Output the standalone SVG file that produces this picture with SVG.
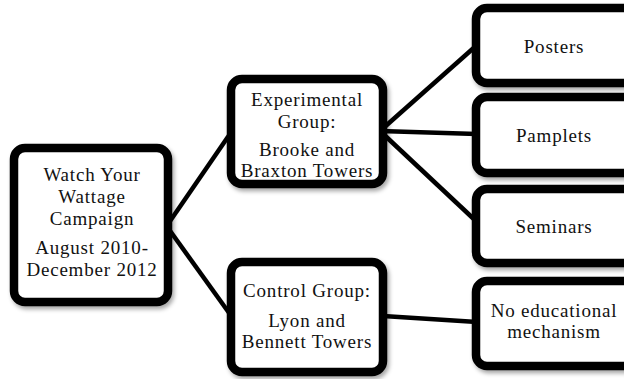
<svg xmlns="http://www.w3.org/2000/svg" width="624" height="379" viewBox="0 0 624 379">
<defs>
<filter id="sh" x="-10%" y="-10%" width="130%" height="130%">
<feDropShadow dx="2" dy="3" stdDeviation="2" flood-color="#000" flood-opacity="0.35"/>
</filter>
<style>
.box{fill:#fff;stroke:#000;stroke-width:8.5;filter:url(#sh)}
.ln{stroke:#000;stroke-width:4.5;fill:none}
.t{font-family:'Liberation Serif','DejaVu Serif',serif;font-size:19px;letter-spacing:0.8px;fill:#111;text-anchor:middle}
</style>
</defs>
<rect width="624" height="379" fill="#fff"/>
<g id="connectors">
<line class="ln" x1="168" y1="224" x2="232" y2="131"/>
<line class="ln" x1="168" y1="228" x2="232" y2="317"/>
<line class="ln" x1="380" y1="131" x2="477" y2="45"/>
<line class="ln" x1="380" y1="131" x2="477" y2="134"/>
<line class="ln" x1="380" y1="131" x2="477" y2="222"/>
<line class="ln" x1="383" y1="316" x2="477" y2="322"/>
</g>
<g id="root">
<rect class="box" x="14" y="148" width="154" height="154" rx="11"/>
<text class="t" x="92" y="181">Watch Your</text>
<text class="t" x="92" y="203">Wattage</text>
<text class="t" x="92" y="225">Campaign</text>
<text class="t" x="92" y="254">August 2010-</text>
<text class="t" x="92" y="276">December 2012</text>
</g>
<g id="experimental">
<rect class="box" x="231" y="79" width="152" height="105" rx="11"/>
<text class="t" x="307" y="106">Experimental</text>
<text class="t" x="307" y="128">Group:</text>
<text class="t" x="307" y="156">Brooke and</text>
<text class="t" x="307" y="177">Braxton Towers</text>
</g>
<g id="control">
<rect class="box" x="231" y="262" width="152" height="110" rx="11"/>
<text class="t" x="307" y="297">Control Group:</text>
<text class="t" x="307" y="327">Lyon and</text>
<text class="t" x="307" y="348">Bennett Towers</text>
</g>
<g id="posters">
<rect class="box" x="476" y="8" width="160" height="75" rx="11"/>
<text class="t" x="554" y="53">Posters</text>
</g>
<g id="pamplets">
<rect class="box" x="476" y="97" width="160" height="76" rx="11"/>
<text class="t" x="554" y="142">Pamplets</text>
</g>
<g id="seminars">
<rect class="box" x="476" y="189" width="160" height="74" rx="11"/>
<text class="t" x="554" y="233">Seminars</text>
</g>
<g id="noedu">
<rect class="box" x="476" y="281" width="160" height="85" rx="11"/>
<text class="t" x="554" y="317">No educational</text>
<text class="t" x="554" y="338">mechanism</text>
</g>
</svg>
